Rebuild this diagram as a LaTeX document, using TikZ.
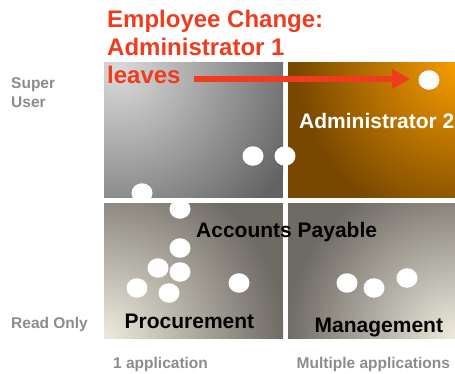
\documentclass[tikz,border=0pt]{standalone}
\usepackage{fontspec}
\setmainfont{Liberation Sans}
\usetikzlibrary{arrows.meta,shapes.geometric}
\definecolor{titlered}{RGB}{240,60,30}
\definecolor{axisgray}{RGB}{140,140,140}
\definecolor{tlLight}{RGB}{218,218,218}
\definecolor{tlDark}{RGB}{98,98,98}
\definecolor{trLight}{RGB}{250,158,0}
\definecolor{trDark}{RGB}{120,72,0}
\definecolor{bLight}{RGB}{238,235,222}
\definecolor{bDark}{RGB}{110,106,100}
\tikzset{
  dot/.style={ellipse, fill=white, minimum width=21pt, minimum height=19.5pt, inner sep=0pt},
  txt/.style={anchor=base west, inner sep=0pt, font=\bfseries},
  titletxt/.style={txt, text=titlered, font=\bfseries\fontsize{24}{28}\selectfont},
  axistxt/.style={txt, text=axisgray, font=\bfseries\fontsize{15.5}{19}\selectfont},
  quadtxt/.style={txt, text=black, font=\bfseries\fontsize{21}{25}\selectfont},
  redarrow/.style={draw=titlered, line width=5.5pt, -{Triangle[length=18pt,width=19pt]}}
}
\begin{document}
\begin{tikzpicture}[x=1pt,y=-1pt]
\useasboundingbox (0,0) rectangle (455,373);
% top-left quadrant
\begin{scope}
  \clip (104,62) rectangle (283,197.5);
  \fill[tlDark] (104,62) rectangle (283,197.5);
  \shade[inner color=tlLight, outer color=tlDark] (118,70) circle (195pt);
\end{scope}
% top-right quadrant
\begin{scope}
  \clip (288,62) rectangle (455,197.5);
  \fill[trDark] (288,62) rectangle (455,197.5);
  \shade[inner color=trLight, outer color=trDark] (460,62) circle (165pt);
\end{scope}
% bottom-left quadrant
\begin{scope}
  \clip (104,203) rectangle (283,338);
  \fill[bDark] (104,203) rectangle (283,338);
  \shade[inner color=bLight, outer color=bDark] (104,338) circle (180pt);
\end{scope}
% bottom-right quadrant
\begin{scope}
  \clip (288,203) rectangle (455,338);
  \fill[bDark] (288,203) rectangle (455,338);
  \shade[inner color=bLight, outer color=bDark] (455,338) circle (170pt);
\end{scope}
% title
\node[titletxt] (t1) at (107,27) {Employee Change:};
\node[titletxt] (t2) at (107,55) {Administrator 1};
\node[titletxt] (t3) at (107,83) {leaves};
% axis labels
\node[axistxt] (super) at (11,88) {Super};
\node[axistxt] (user) at (11,107) {User};
\node[axistxt] (readonly) at (11,328) {Read Only};
\node[axistxt] (oneapp) at (113,368) {1 application};
\node[axistxt] (multapp) at (296.5,368) {Multiple applications};
% dots
\node[dot] (c1) at (429,80) {};
\node[dot] (c2) at (253,156) {};
\node[dot] (c3) at (285,156) {};
\node[dot] (c4) at (142,193) {};
\node[dot] (c5) at (180,209) {};
\node[dot] (c6) at (180,248) {};
\node[dot] (c7) at (158,268) {};
\node[dot] (c8) at (180,272) {};
\node[dot] (c9) at (137,288) {};
\node[dot] (c10) at (169,293) {};
\node[dot] (c11) at (239,283) {};
\node[dot] (c12) at (347,283) {};
\node[dot] (c13) at (374,288) {};
\node[dot] (c14) at (407,278) {};
% quadrant labels
\node[quadtxt, text=white] (admin2) at (299,128) {Administrator 2};
\node[quadtxt] (ap) at (196,237) {Accounts Payable};
\node[quadtxt] (proc) at (124.5,328) {Procurement};
\node[quadtxt] (mgmt) at (314.5,332) {Management};
% arrow
\coordinate (astart) at (194,79);
\draw[redarrow, shorten >=19pt] (astart) -- (astart -| c1.center);
\end{tikzpicture}
\end{document}
